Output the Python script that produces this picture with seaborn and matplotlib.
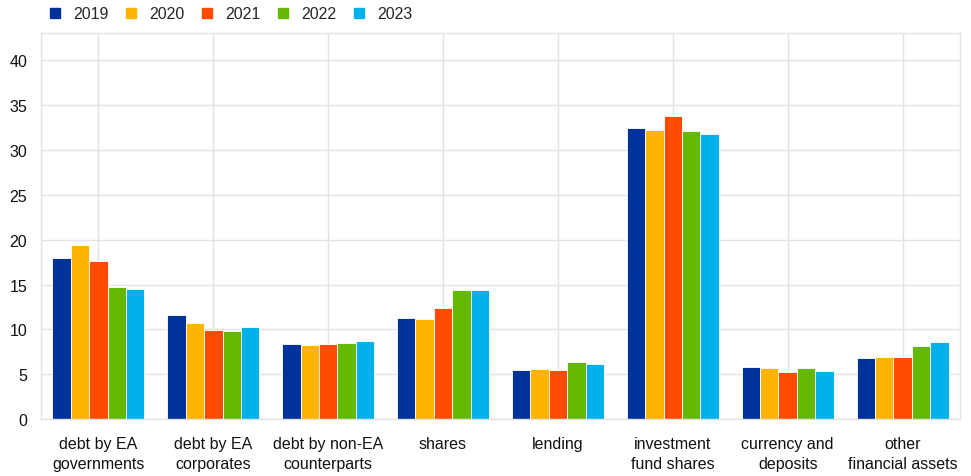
import matplotlib
matplotlib.use("Agg")
import matplotlib.pyplot as plt
import seaborn as sns
import pandas as pd
from matplotlib.lines import Line2D

categories = ["debt by EA\ngovernments", "debt by EA\ncorporates", "debt by non-EA\ncounterparts",
              "shares", "lending", "investment\nfund shares", "currency and\ndeposits",
              "other\nfinancial assets"]
years = ["2019", "2020", "2021", "2022", "2023"]
v2019 = [18.0, 11.65, 8.35, 11.3, 5.45, 32.4, 5.8, 6.77]
v2020 = [19.4, 10.7, 8.2, 11.1, 5.6, 32.2, 5.65, 6.93]
v2021 = [17.65, 9.95, 8.4, 12.35, 5.5, 33.8, 5.2, 6.93]
v2022 = [14.7, 9.8, 8.5, 14.35, 6.4, 32.1, 5.73, 8.1]
v2023 = [14.5, 10.3, 8.75, 14.35, 6.18, 31.8, 5.32, 8.56]
colors = ["#003299", "#FFB400", "#FF4B00", "#65B800", "#00B1EA"]

series = [v2019, v2020, v2021, v2022, v2023]
rows = []
for y, vals in zip(years, series):
    for c, v in zip(categories, vals):
        rows.append({"category": c, "year": y, "value": v})
df = pd.DataFrame(rows)

sns.set_theme(style="white")
plt.rcParams["font.family"] = ["Liberation Sans", "DejaVu Sans"]

fig = plt.figure(figsize=(9.71, 4.77), dpi=100)
ax = fig.add_axes([41 / 971, 1 - 420 / 477, 919 / 971, (420 - 34) / 477])

sns.barplot(data=df, x="category", y="value", hue="year", palette=colors,
            order=categories, hue_order=years, width=0.8, ax=ax,
            edgecolor="white", linewidth=0.6, saturation=1, legend=False)

ax.set_xlim(-0.5, 7.5)
ax.set_ylim(0, 43.05)
ax.set_yticks(range(0, 41, 5))
ax.set_xlabel("")
ax.set_ylabel("")
ax.grid(True, axis="both", color="#e3e3e3", linewidth=1)
ax.set_axisbelow(True)
for s in ax.spines.values():
    s.set_color("#e3e3e3")
    s.set_linewidth(1)
ax.tick_params(axis="both", length=0, labelsize=11.5, colors="#111111")
ax.tick_params(axis="x", pad=12)
ax.tick_params(axis="y", pad=10)
for lab in ax.get_xticklabels():
    lab.set_linespacing(1.45)

handles = [Line2D([0], [0], marker="s", linestyle="none", markersize=7.5,
                  markerfacecolor=c, markeredgecolor=c) for c in colors]
fig.legend(handles, years, loc="upper left", bbox_to_anchor=(33 / 971, 1.015), ncol=5,
           frameon=False, fontsize=11.5, handletextpad=0.6, columnspacing=0.95,
           handlelength=1.0)

fig.savefig("out.png", dpi=100)
